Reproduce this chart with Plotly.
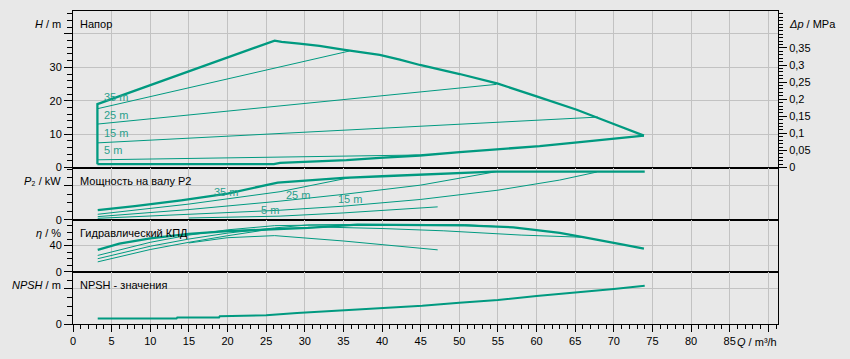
import plotly.graph_objects as go
from plotly.subplots import make_subplots

# ---------------- data ----------------
# Head panel (Q in m³/h, H in m)
q_hmax = [3.16, 3.16, 26.1, 27.0, 29.3, 31.9, 34.95, 39.7, 42.3, 44.9, 50.05, 55.0, 60.0, 65.2, 69.9, 73.9]
h_hmax = [1.0, 19.0, 38.0, 37.6, 37.1, 36.4, 35.3, 33.7, 32.3, 30.7, 28.0, 25.1, 21.3, 17.3, 13.1, 9.55]
q_hmin = [3.16, 26.0, 26.8, 31.1, 35.4, 39.7, 44.9, 50.05, 55.2, 60.4, 65.6, 73.9]
h_hmin = [1.0, 1.0, 1.4, 1.7, 2.2, 2.9, 3.6, 4.6, 5.4, 6.4, 7.6, 9.55]
q_h35 = [3.16, 35.8]
h_h35 = [17.6, 34.9]
q_h25 = [3.16, 54.8]
h_h25 = [13.0, 24.9]
q_h15 = [3.16, 67.95]
h_h15 = [7.37, 15.1]
q_h5 = [3.16, 44.9]
h_h5 = [2.3, 3.75]

# Power panel P2
q_pmax = [3.2, 8, 14, 20, 26.5, 30, 35, 40, 45, 50, 54.5, 74]
p_pmax = [1.12, 1.6, 2.3, 3.1, 4.4, 4.65, 4.95, 5.15, 5.35, 5.5, 5.7, 5.7]
q_p35 = [3.2, 15, 26.8, 35.8]
p_p35 = [0.64, 1.85, 3.32, 4.98]
q_p25 = [3.2, 15, 26.8, 35, 45, 54.8]
p_p25 = [0.36, 1.2, 2.2, 3.0, 4.1, 5.7]
q_p15 = [3.2, 15, 26.8, 35, 45, 55, 63, 67.8]
p_p15 = [0.16, 0.6, 1.12, 1.6, 2.4, 3.5, 4.7, 5.65]
q_p5 = [15, 26.8, 35, 47.2]
p_p5 = [0.2, 0.42, 0.8, 1.52]

# Efficiency panel (%)
q_emax = [3.2, 6, 10, 15, 20, 26.1, 30.4, 36.8, 43, 50.7, 57, 63, 66.2, 68.6, 71.2, 73.9]
e_emax = [33.5, 43, 51, 58, 62, 64.3, 66.9, 71.9, 71.9, 70.8, 67.8, 59.3, 52.6, 47.6, 41.5, 35.4]
q_e35 = [3.2, 6, 10, 15, 20, 26.1, 31, 35.8]
e_e35 = [25.0, 33, 45, 56, 64, 70.4, 71.5, 71.9]
q_e25 = [3.2, 6, 10, 15, 20, 26.1, 30.4, 40, 50.7, 54.8]
e_e25 = [20.0, 28, 39, 50, 59, 66.9, 71.5, 72, 71.9, 69]
q_e15 = [3.2, 6, 10, 15, 20, 26.1, 33, 40, 48, 58, 66.2]
e_e15 = [15.2, 23, 34, 45, 55, 66.0, 68, 66, 62.5, 56, 52.6]
q_e5 = [15, 20, 26.1, 35, 47.2]
e_e5 = [44, 52, 55.2, 47, 33.5]

# NPSH panel
q_npsh = [3.2, 13.4, 13.5, 18.9, 19.0, 25, 29, 33.6, 38, 42.3, 45.2, 50, 55, 60, 65, 70, 74]
npsh = [0.62, 0.62, 0.74, 0.74, 0.89, 1.0, 1.27, 1.5, 1.7, 1.89, 2.08, 2.42, 2.73, 3.19, 3.58, 4.0, 4.38]

# Axis ticks
q_ticks = list(range(0, 95, 5))
q_ticktext = [str(v) for v in range(0, 90, 5)] + [""]
h_ticks = [0, 10, 20, 30, 40]
h_ticktext = ["0", "10", "20", "30", ""]
dp_ticks = [0, 0.05, 0.1, 0.15, 0.2, 0.25, 0.3, 0.35]
dp_ticktext = ["0", "0,05", "0,1", "0,15", "0,2", "0,25", "0,3", "0,35"]

TEAL = "#009a80"
TEXT_TEAL = "#2a9f8c"
BG = "#e8e8e8"
GRID = "#c2c2c2"

fig = make_subplots(rows=4, cols=1, shared_xaxes=True, vertical_spacing=0,
                    row_heights=[3, 1, 1, 1])

def add(q, v, row, width):
    fig.add_trace(go.Scatter(x=q, y=v, mode="lines",
                             line=dict(color=TEAL, width=width),
                             hoverinfo="skip", showlegend=False), row=row, col=1)

THICK, THIN = 2.3, 1.0
add(q_hmin, h_hmin, 1, THICK)
add(q_h35, h_h35, 1, THIN)
add(q_h25, h_h25, 1, THIN)
add(q_h15, h_h15, 1, THIN)
add(q_h5, h_h5, 1, THIN)
add(q_hmax, h_hmax, 1, THICK)

add(q_p35, p_p35, 2, THIN)
add(q_p25, p_p25, 2, THIN)
add(q_p15, p_p15, 2, THIN)
add(q_p5, p_p5, 2, THIN)
add(q_pmax, p_pmax, 2, THICK)

add(q_e35, e_e35, 3, THIN)
add(q_e25, e_e25, 3, THIN)
add(q_e15, e_e15, 3, THIN)
add(q_e5, e_e5, 3, THIN)
add(q_emax, e_emax, 3, THICK)

add(q_npsh, npsh, 4, 2.0)

# invisible trace to carry the Δp axis
fig.add_trace(go.Scatter(x=[0], y=[0], mode="markers", marker=dict(opacity=0, size=1),
                         yaxis="y5", xaxis="x", hoverinfo="skip", showlegend=False))

axfont = dict(family="Liberation Sans, Arial, sans-serif", size=11, color="#000000")

for i in range(1, 5):
    xa = dict(range=[0, 91.25], showgrid=True, gridcolor=GRID, gridwidth=1,
              tickmode="array", tickvals=q_ticks, ticktext=q_ticktext,
              showline=True, linecolor="black", linewidth=1, mirror=True,
              zeroline=False, tickfont=axfont)
    if i == 4:
        xa.update(ticks="outside", ticklen=7, tickcolor="black", tickwidth=1,
                  showticklabels=True,
                  minor=dict(dtick=1, tick0=0, ticks="outside", ticklen=4,
                             tickcolor="black", showgrid=False))
    else:
        xa.update(ticks="", showticklabels=False)
    fig.update_xaxes(xa, row=i, col=1)

common_y = dict(showline=True, linecolor="black", linewidth=1, mirror=True,
                zeroline=False, gridcolor=GRID, gridwidth=1, ticks="outside",
                ticklen=8, tickcolor="black", tickwidth=1, tickfont=axfont)

fig.update_yaxes(common_y, row=1, col=1)
fig.update_yaxes(range=[0, 46.87], tickmode="array", tickvals=h_ticks, ticktext=h_ticktext,
                 minor=dict(dtick=2, tick0=0, ticks="outside", ticklen=5,
                            tickcolor="black", showgrid=False), row=1, col=1)
fig.update_yaxes(common_y, row=2, col=1)
fig.update_yaxes(range=[0, 6.19], tickmode="array", tickvals=[0, 4], ticktext=["0", ""],
                 minor=dict(dtick=1, tick0=0, ticks="outside", ticklen=5,
                            tickcolor="black", showgrid=False), row=2, col=1)
fig.update_yaxes(common_y, row=3, col=1)
fig.update_yaxes(range=[0, 79.5], tickmode="array", tickvals=[0, 40], ticktext=["0", "40"],
                 minor=dict(dtick=10, tick0=0, ticks="outside", ticklen=5,
                            tickcolor="black", showgrid=False), row=3, col=1)
fig.update_yaxes(common_y, row=4, col=1)
fig.update_yaxes(range=[0, 5.96], tickmode="array", tickvals=[0, 4], ticktext=["0", ""],
                 minor=dict(dtick=1, tick0=0, ticks="outside", ticklen=5,
                            tickcolor="black", showgrid=False), row=4, col=1)

fig.update_layout(
    yaxis5=dict(overlaying="y", side="right", anchor="x", range=[0, 0.4582],
                tickmode="array", tickvals=dp_ticks, ticktext=dp_ticktext,
                ticks="outside", ticklen=8, tickcolor="black", tickwidth=1,
                showgrid=False, zeroline=False, showline=True, linecolor="black",
                linewidth=1, tickfont=axfont,
                minor=dict(dtick=0.01, tick0=0, ticks="outside", ticklen=4,
                           tickcolor="black", showgrid=False)),
)

L, R, T, B = 73, 72, 11, 35
W, H = 850, 359
PW, PH = W - L - R, H - T - B

def px(x, y):
    return (x - L) / PW, (H - B - y) / PH

annots = []
def note(text, x, y, anchor="left", color="#000000", size=11):
    xp, yp = px(x, y)
    annots.append(dict(text=text, x=xp, y=yp, xref="paper", yref="paper",
                       xanchor=anchor, yanchor="middle", showarrow=False,
                       font=dict(family="Liberation Sans, Arial, sans-serif",
                                 size=size, color=color)))

# axis titles
note("<i>H</i> / m", 63, 24, "right")
note("<i>P</i>₂ / kW", 63, 181, "right")
note("<i>η</i> / %", 63, 233, "right")
note("<i>NPSH</i> / m", 63, 285, "right")
note("<i>Δp</i> / MPa", 787, 24, "left")
note("<i>Q</i> / m³/h", 779, 342, "right")
# panel titles
note("Напор", 78, 24)
note("Мощность на валу P2", 78, 181)
note("Гидравлический КПД", 78, 233)
note("NPSH - значения", 78, 285)
# curve labels (head panel)
note("35 m", 102, 97, color=TEXT_TEAL)
note("25 m", 102, 115, color=TEXT_TEAL)
note("15 m", 102, 133, color=TEXT_TEAL)
note("5 m", 102, 150, color=TEXT_TEAL)
# curve labels (power panel)
note("35 m", 212, 192, color=TEXT_TEAL)
note("25 m", 284, 195, color=TEXT_TEAL)
note("15 m", 336, 199, color=TEXT_TEAL)
note("5 m", 259, 210, color=TEXT_TEAL)

fig.update_layout(
    width=W, height=H,
    margin=dict(l=L, r=R, t=T, b=B, pad=0),
    paper_bgcolor=BG, plot_bgcolor=BG,
    showlegend=False,
    annotations=annots,
    font=axfont,
)

fig.write_html("out.html")
